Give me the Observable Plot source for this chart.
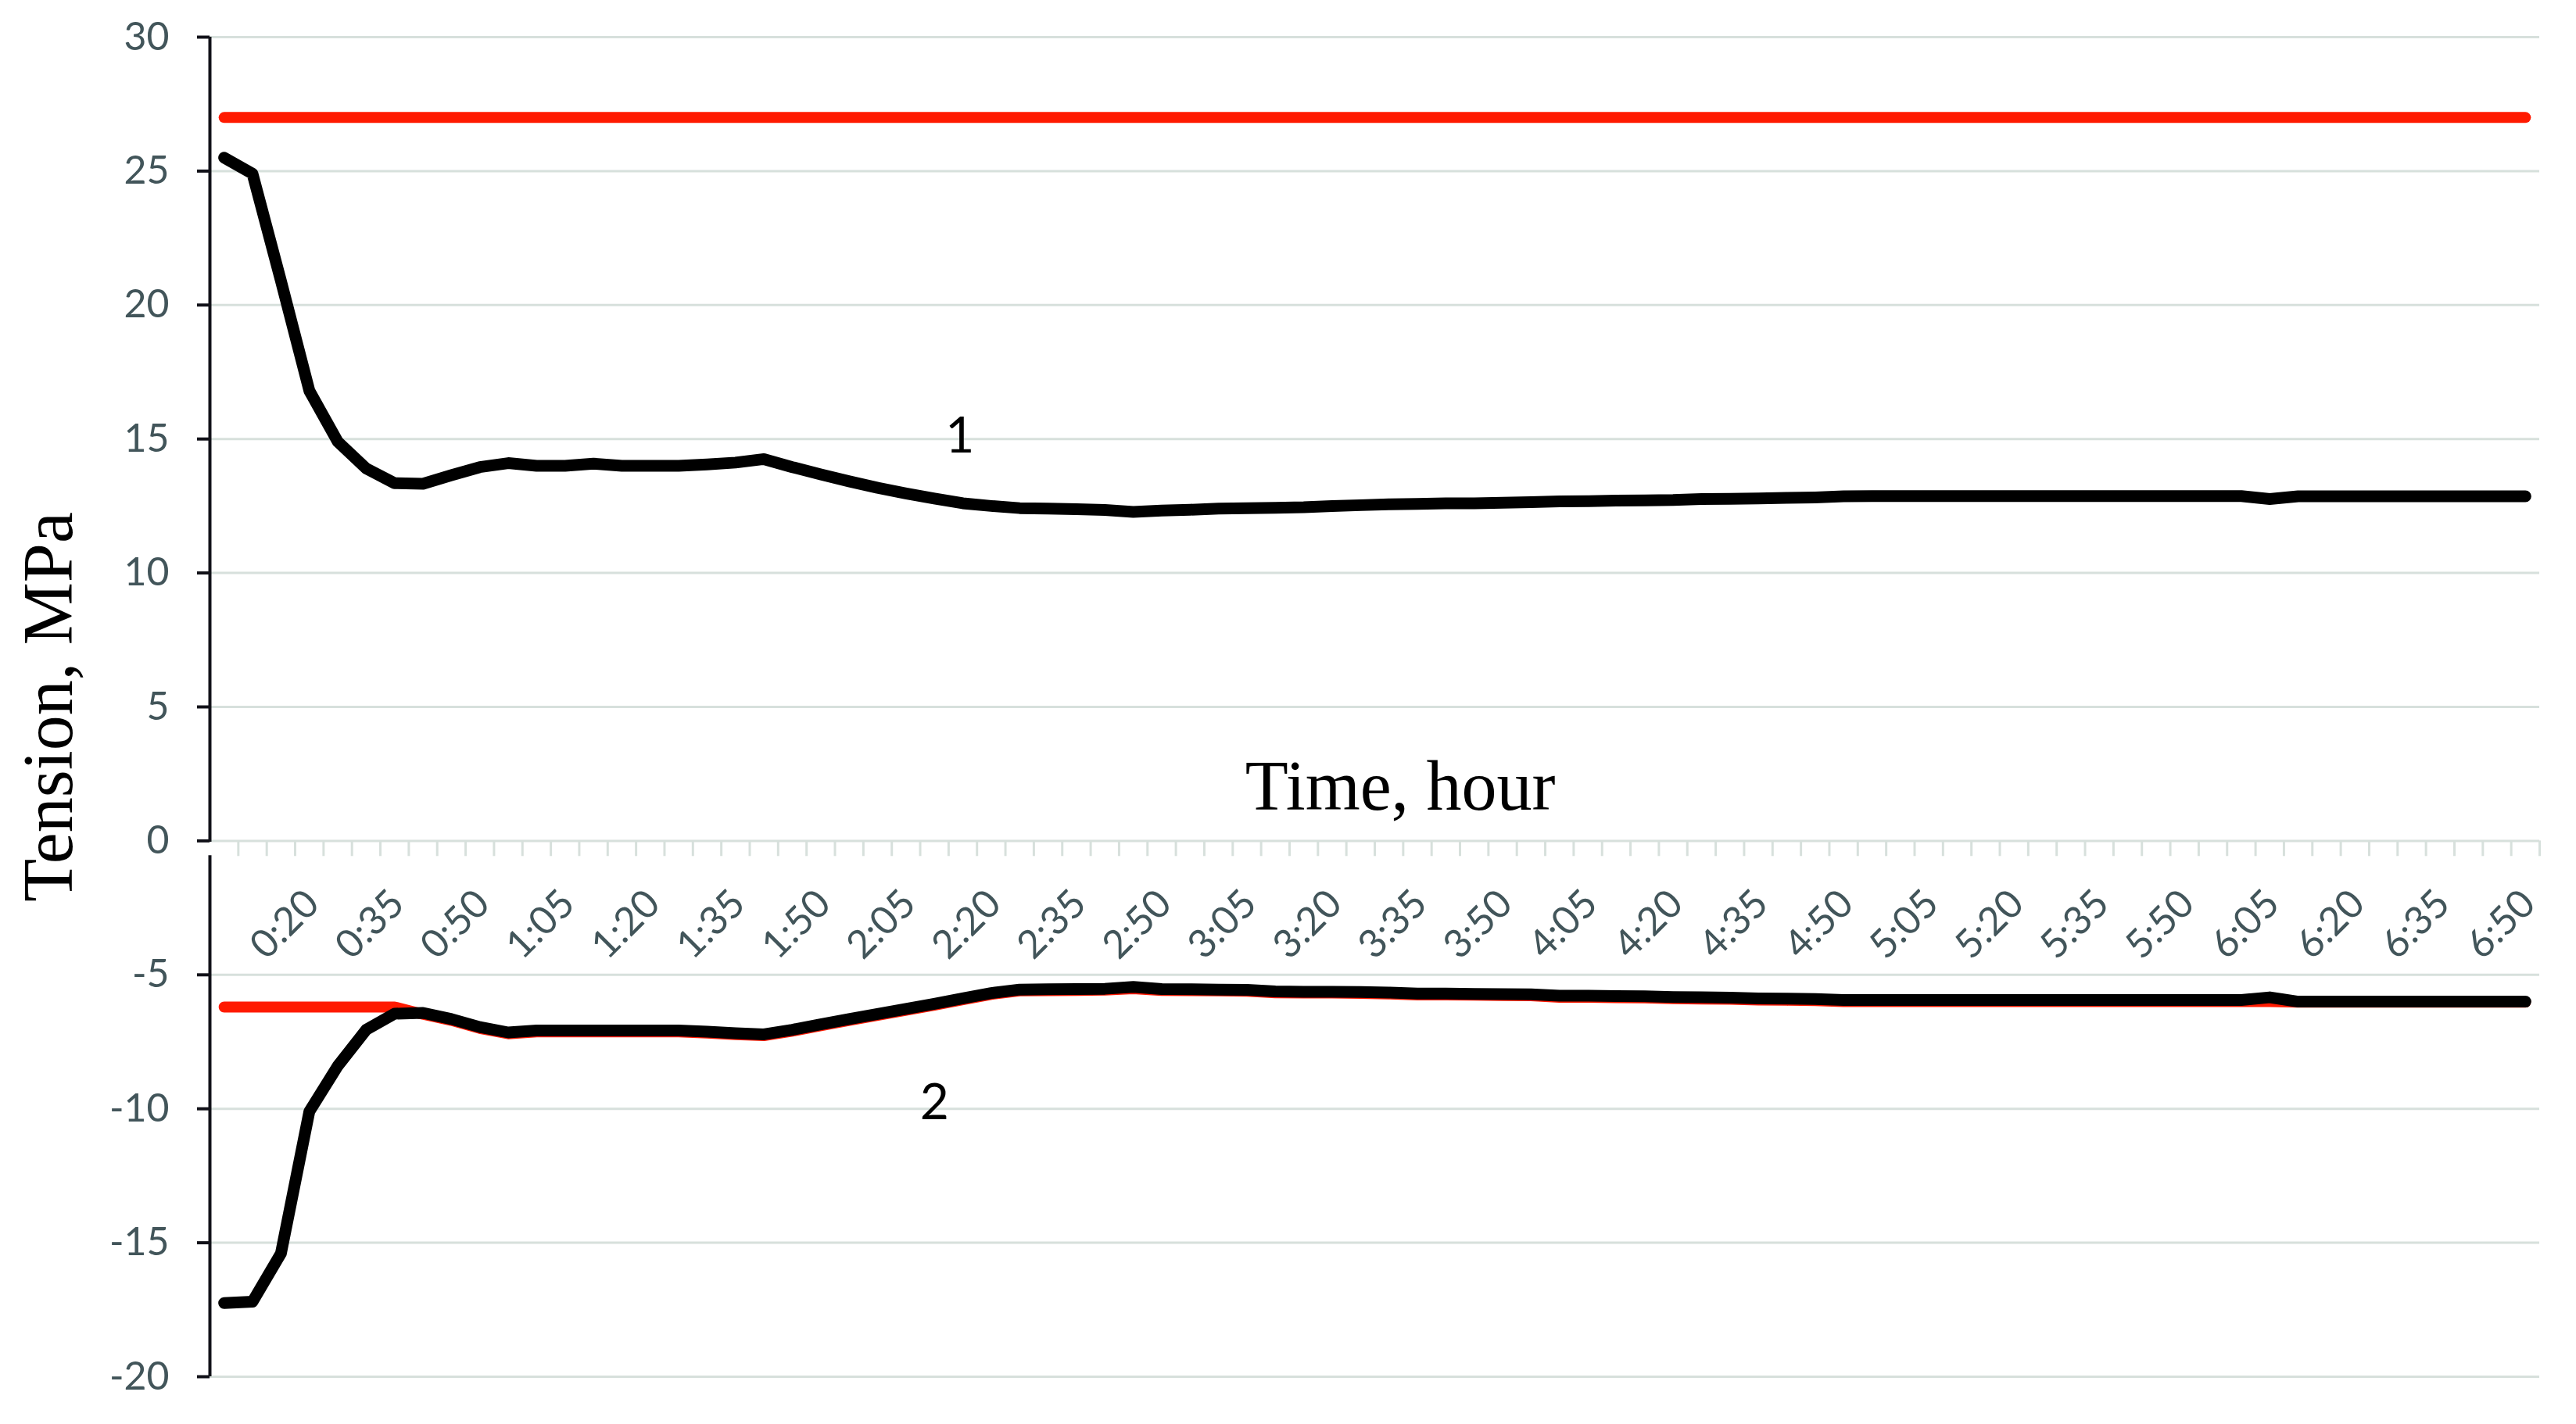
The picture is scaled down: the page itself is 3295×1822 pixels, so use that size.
<!DOCTYPE html>
<html>
<head>
<meta charset="utf-8">
<script src="https://cdn.jsdelivr.net/npm/d3@7"></script>
<script src="https://cdn.jsdelivr.net/npm/@observablehq/plot@0.6"></script>
<style>
  html, body { margin: 0; padding: 0; background: #fff; overflow: hidden; }
  #chart svg { display: block; }
</style>
</head>
<body>
<div id="chart"></div>
<script>
// Time categories (5-minute steps)
const categories = [
  "0:05","0:10","0:15","0:20","0:25","0:30","0:35","0:40","0:45","0:50","0:55",
  "1:00","1:05","1:10","1:15","1:20","1:25","1:30","1:35","1:40","1:45","1:50","1:55",
  "2:00","2:05","2:10","2:15","2:20","2:25","2:30","2:35","2:40","2:45","2:50","2:55",
  "3:00","3:05","3:10","3:15","3:20","3:25","3:30","3:35","3:40","3:45","3:50","3:55",
  "4:00","4:05","4:10","4:15","4:20","4:25","4:30","4:35","4:40","4:45","4:50","4:55",
  "5:00","5:05","5:10","5:15","5:20","5:25","5:30","5:35","5:40","5:45","5:50","5:55",
  "6:00","6:05","6:10","6:15","6:20","6:25","6:30","6:35","6:40","6:45","6:50"
];

// Tick labels shown on the time axis
const tickLabels = [
  "0:20","0:35","0:50","1:05","1:20","1:35","1:50","2:05","2:20","2:35","2:50",
  "3:05","3:20","3:35","3:50","4:05","4:20","4:35","4:50","5:05","5:20","5:35",
  "5:50","6:05","6:20","6:35","6:50"
];

// Y ticks
const yTicks = [-20, -15, -10, -5, 0, 5, 10, 15, 20, 25, 30];

// Curve 1 (upper, black)
const curve1 = [
  25.5, 24.9, 20.9, 16.8, 14.9, 13.9, 13.35, 13.33, 13.65, 13.95,
  14.1, 14.0, 14.0, 14.08, 14.0, 14.0, 14.0, 14.05, 14.12, 14.25,
  13.95, 13.68, 13.42, 13.18, 12.97, 12.78, 12.6, 12.5, 12.42, 12.4,
  12.38, 12.35, 12.28, 12.33, 12.36, 12.4, 12.42, 12.43, 12.45, 12.5,
  12.53, 12.56, 12.58, 12.6, 12.6, 12.62, 12.64, 12.67, 12.68, 12.7,
  12.71, 12.72, 12.76, 12.77, 12.78, 12.8, 12.82, 12.86, 12.87, 12.87,
  12.87, 12.87, 12.87, 12.87, 12.87, 12.87, 12.87, 12.87, 12.87, 12.87,
  12.87, 12.87, 12.76, 12.86, 12.86, 12.86, 12.86, 12.86, 12.86, 12.86,
  12.86, 12.86
];

// Curve 2 (lower, black)
const curve2 = [
  -17.25, -17.2, -15.4, -10.1, -8.4, -7.05, -6.45, -6.42, -6.65, -6.95,
  -7.15, -7.08, -7.08, -7.08, -7.08, -7.08, -7.08, -7.12, -7.18, -7.22,
  -7.05, -6.85, -6.65, -6.46, -6.27, -6.08, -5.88, -5.68, -5.55, -5.54,
  -5.53, -5.52, -5.45, -5.53, -5.54, -5.55, -5.56, -5.62, -5.63, -5.63,
  -5.64, -5.66, -5.7, -5.7, -5.71, -5.72, -5.73, -5.78, -5.78, -5.79,
  -5.8, -5.83, -5.84, -5.85, -5.88, -5.89, -5.9, -5.94, -5.94, -5.94,
  -5.94, -5.94, -5.94, -5.94, -5.94, -5.94, -5.94, -5.94, -5.94, -5.94,
  -5.94, -5.94, -5.84, -6.0, -6.0, -6.0, -6.0, -6.0, -6.0, -6.0,
  -6.0, -6.0
];

// Upper limit (red), constant
const limit1 = 27;

// Lower limit (red)
const limit2 = [
  -6.2, -6.2, -6.2, -6.2, -6.2, -6.2, -6.2, -6.47, -6.7, -7.0,
  -7.2, -7.13, -7.13, -7.13, -7.13, -7.13, -7.13, -7.17, -7.23, -7.27,
  -7.1, -6.9, -6.7, -6.51, -6.32, -6.13, -5.93, -5.73, -5.6, -5.59,
  -5.58, -5.57, -5.52, -5.58, -5.59, -5.6, -5.61, -5.67, -5.68, -5.68,
  -5.69, -5.71, -5.75, -5.75, -5.76, -5.77, -5.78, -5.84, -5.84, -5.85,
  -5.86, -5.89, -5.9, -5.91, -5.94, -5.95, -5.96, -6.0, -6.0, -6.0,
  -6.0, -6.0, -6.0, -6.0, -6.0, -6.0, -6.0, -6.0, -6.0, -6.0,
  -6.0, -6.0, -6.0, -6.02, -6.02, -6.02, -6.02, -6.02, -6.02, -6.02,
  -6.02, -6.02
];

// Build table
const rows = categories.map((t, i) => ({i, t, c1: curve1[i], c2: curve2[i], l2: limit2[i]}));
const labelIdx = tickLabels.map(l => categories.indexOf(l));
const boundaries = categories.map((_, i) => i + 0.5);
const axisSegments = [{y1: 30, y2: -0.05}, {y1: -0.55, y2: -20}];

const RED = "#ff1a00";
const GRID = "#d7e0dc";
const LABEL = "#42555a";
const LW = 15;

const chart = Plot.plot({
  width: 3295,
  height: 1822,
  marginLeft: 268,
  marginRight: 47,
  marginTop: 47,
  marginBottom: 61,
  style: {fontFamily: "Lato, 'Open Sans', sans-serif", background: "#ffffff", color: "#000"},
  x: {domain: [-0.5, categories.length - 0.5], axis: null},
  y: {domain: [-20, 30]},
  marks: [
    Plot.ruleY(yTicks, {stroke: GRID, strokeWidth: 3}),
    Plot.ruleX(boundaries, {y1: 0, y2: -0.58, stroke: GRID, strokeWidth: 3}),
    Plot.ruleX(axisSegments, {x: -0.5, y1: "y1", y2: "y2", stroke: "#111118", strokeWidth: 4}),
    Plot.axisY({
      ticks: yTicks, tickSize: 16, tickPadding: 36,
      tickFormat: d => String(d),
      stroke: "#111118", strokeWidth: 4,
      fill: LABEL, fontSize: 50, label: null
    }),
    Plot.text(labelIdx, {
      x: d => d, y: 0, text: d => categories[d],
      rotate: -45, textAnchor: "end", lineAnchor: "middle",
      dx: 4, dy: 72, fontSize: 50, fill: LABEL
    }),
    Plot.lineY(rows, {x: "i", y: () => limit1, stroke: RED, strokeWidth: 14, strokeLinecap: "round", strokeLinejoin: "round"}),
    Plot.lineY(rows, {x: "i", y: "l2", stroke: RED, strokeWidth: 14, strokeLinecap: "round", strokeLinejoin: "round"}),
    Plot.lineY(rows, {x: "i", y: "c2", stroke: "#000", strokeWidth: LW, strokeLinecap: "round", strokeLinejoin: "round"}),
    Plot.lineY(rows, {x: "i", y: "c1", stroke: "#000", strokeWidth: LW, strokeLinecap: "round", strokeLinejoin: "round"}),
    Plot.text(["Tension, MPa"], {
      frameAnchor: "left", rotate: -90, dx: -205,
      textAnchor: "middle", lineAnchor: "middle",
      fontFamily: "'Liberation Serif', 'Times New Roman', serif", fontSize: 90, fill: "#000"
    }),
    Plot.text(["Time, hour"], {
      x: 41.4, y: 2, textAnchor: "middle", lineAnchor: "middle",
      fontFamily: "'Liberation Serif', 'Times New Roman', serif", fontSize: 90, fill: "#000"
    }),
    Plot.text(["1"], {x: 25.9, y: 15.1, textAnchor: "middle", lineAnchor: "middle", fontSize: 64, fill: "#000"}),
    Plot.text(["2"], {x: 25.0, y: -9.8, textAnchor: "middle", lineAnchor: "middle", fontSize: 64, fill: "#000"})
  ]
});

document.getElementById("chart").appendChild(chart);
</script>
</body>
</html>
